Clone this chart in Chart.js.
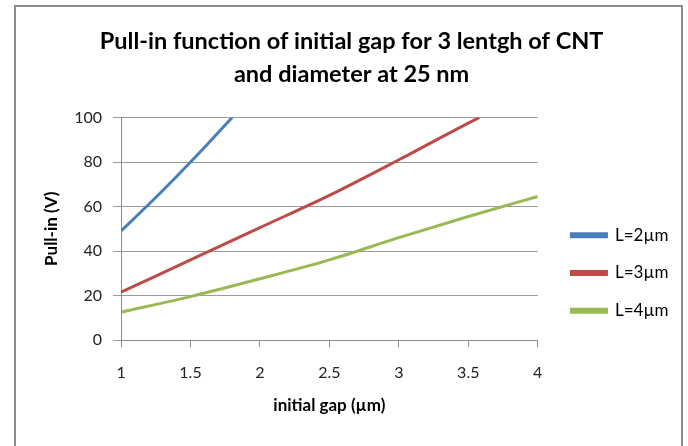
<!DOCTYPE html>
<html>
<head>
<meta charset="utf-8">
<script src="https://cdn.jsdelivr.net/npm/chart.js@4.4.1/dist/chart.umd.min.js"></script>
<style>
  body { margin: 0; background: #fff; overflow: hidden; }
  #frame {
    position: absolute; left: 14px; top: 5px; width: 665px; height: 520px;
    border: 2px solid #8c8c8c; border-bottom: none;
  }
  #chartBox { position: absolute; left: 0; top: 0; width: 688px; height: 446px; }
</style>
</head>
<body>
<div id="frame"></div>
<div id="chartBox"><canvas id="pullInChart" width="688" height="446"></canvas></div>
<script>
// initial gap (µm) and pull-in voltage (V) for each CNT length
const gapL2 = [1, 1.2, 1.4, 1.6, 1.8];
const voltL2 = [49, 61, 73.5, 86.5, 100];

const gapL3 = [1, 1.5, 2, 2.5, 3, 3.5, 3.58];
const voltL3 = [21.5, 36, 50.5, 65, 81, 97.5, 100];

const gapL4 = [1, 1.5, 2, 2.5, 3, 3.5, 4];
const voltL4 = [12.5, 19.5, 27.5, 36, 46, 55.5, 64.5];

const seriesLabels = ["L=2µm", "L=3µm", "L=4µm"];
const seriesColors = ["#4a7ebb", "#be4b48", "#98b954"];

const toPoints = (xs, ys) => xs.map((x, i) => ({ x: x, y: ys[i] }));
const allSeries = [
  toPoints(gapL2, voltL2),
  toPoints(gapL3, voltL3),
  toPoints(gapL4, voltL4),
];

const fontFamily = "Lato, 'Open Sans', sans-serif";

// nudge the legend to where the original sits (right of plot, lower half)
const legendShift = {
  id: "legendShift",
  afterLayout(chart) {
    const lg = chart.legend;
    if (!lg) return;
    const dx = 13, dy = 50.7;
    lg.left += dx; lg.right += dx;
    lg.top += dy; lg.bottom += dy;
  },
};

const chartData = {
  datasets: allSeries.map((pts, i) => ({
    label: seriesLabels[i],
    data: pts,
    borderColor: seriesColors[i],
    backgroundColor: seriesColors[i],
    borderWidth: 3,
    pointRadius: 0,
    cubicInterpolationMode: "monotone",
  })),
};

const chartOptions = {
  responsive: false,
  animation: false,
  devicePixelRatio: 1,
  layout: { padding: { top: 25, left: 37.8, right: 22.6, bottom: 26.4 } },
  scales: {
    x: {
      type: "linear",
      min: 1,
      max: 4,
      ticks: {
        stepSize: 0.5,
        color: "#222",
        font: { family: fontFamily, size: 16 },
        padding: 16,
        callback: (v) => String(Number(v)),
      },
      grid: {
        drawOnChartArea: false,
        drawTicks: true,
        tickLength: 7,
        color: "#8c8c8c",
      },
      border: { color: "#8c8c8c" },
      title: {
        display: true,
        text: "initial gap (µm)",
        color: "#000",
        font: { family: fontFamily, size: 17, weight: "bold" },
        padding: { top: -3, bottom: 4 },
      },
    },
    y: {
      min: 0,
      max: 100,
      ticks: {
        stepSize: 20,
        color: "#222",
        font: { family: fontFamily, size: 16 },
        padding: 11,
      },
      grid: {
        color: "#9a9a9a",
        tickLength: 8,
      },
      border: { color: "#8c8c8c" },
      title: {
        display: true,
        text: "Pull-in (V)",
        color: "#000",
        font: { family: fontFamily, size: 17, weight: "bold" },
        padding: { top: 4, bottom: 1 },
      },
    },
  },
  plugins: {
    title: {
      display: true,
      text: ["Pull-in function of initial gap for 3 lentgh of CNT", "and diameter at 25 nm"],
      color: "#000",
      font: { family: fontFamily, size: 23.5, weight: "bold", lineHeight: 1.4 },
      padding: { top: 0, bottom: 26.7 },
    },
    legend: {
      display: true,
      position: "right",
      labels: {
        boxWidth: 35,
        boxHeight: 3,
        padding: 20.7,
        color: "#000",
        font: { family: fontFamily, size: 17 },
      },
    },
    tooltip: { enabled: false },
  },
};

const ctx = document.getElementById("pullInChart");
new Chart(ctx, {
  type: "line",
  data: chartData,
  options: chartOptions,
  plugins: [legendShift],
});
</script>
</body>
</html>
